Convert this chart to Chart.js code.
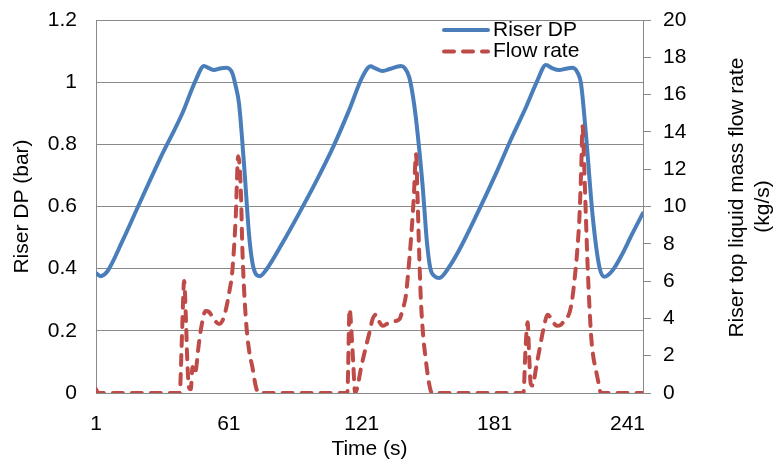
<!DOCTYPE html>
<html><head><meta charset="utf-8">
<style>html,body{margin:0;padding:0;background:#fff;} #wrap{width:773px;height:464px;}</style>
<script src="https://cdn.jsdelivr.net/npm/chart.js@4"></script>
</head><body><div id="wrap"><canvas id="c" width="773" height="464"></canvas></div>
<script>
// ---- data ----
const xTickValues = [1, 61, 121, 181, 241];
const seriesNames = ['Riser DP', 'Flow rate'];
const dpTime = [1, 3, 6, 13, 20, 30, 40, 46, 49.8, 52, 54.3, 57, 60, 62.6, 64, 65.6, 67.9, 70.1, 71.6, 73, 75, 77.7,
  85, 92.7, 100, 108, 115.3, 121.3, 125, 127, 130.4, 134, 138.6, 140.5, 142.4, 144, 145.4, 148.4, 150.5, 152, 154, 156,
  160.5, 165, 172, 181.6, 188, 195.2, 200, 204.2, 207, 210.2, 213, 216.2, 218.5, 220, 222.2, 225.3, 228.3, 230.6, 234.3,
  238.8, 243, 247.9];
const dpValues = [0.386, 0.376, 0.39, 0.49, 0.60, 0.755, 0.90, 1.006, 1.052, 1.045, 1.039, 1.044, 1.046, 1.028, 0.99, 0.93,
  0.73, 0.51, 0.42, 0.385, 0.376, 0.395,
  0.48, 0.578, 0.675, 0.79, 0.91, 1.017, 1.051, 1.045, 1.036, 1.043, 1.052, 1.045, 1.017, 0.96, 0.888, 0.674, 0.48, 0.40,
  0.375, 0.37,
  0.406, 0.46, 0.56, 0.706, 0.81, 0.92, 1.00, 1.055, 1.045, 1.039, 1.043, 1.046, 1.03, 0.996, 0.835, 0.567, 0.406, 0.374,
  0.395, 0.449, 0.51, 0.578];
const flowTime = [1, 2, 38.8, 39.8, 40.8, 41.6, 42.3, 43, 43.8, 44.6, 45.4, 46.2, 47.2, 48.5, 50.5, 52, 54, 56.6, 58.2,
  59.6, 61, 62.6, 64.1, 65.2, 66.4, 67.1, 68.6, 70.1, 71.6, 73.2, 74.5,
  114.5, 115.5, 116.5, 117.2, 118, 119, 120.6, 122.5, 124.4, 126, 127.4, 129, 130.4, 133, 136, 138, 139.4, 140.9, 142,
  143.2, 144.5, 145.5, 146.2, 146.8, 147.7, 148.8, 149.9, 151, 152.2, 153,
  194, 195, 195.9, 196.6, 197.3, 198.3, 199.5, 201.2, 203, 204.9, 207, 209, 210.9, 212.5, 214.7, 216, 217.2, 218.3,
  219.3, 220.1, 220.7, 221.5, 222.2, 223, 224.5, 225.5, 226.8, 228, 229, 248];
const flowValues = [0.2, 0, 0, 3.0, 6.0, 4.0, 1.5, 0.3, 0.2, 1.4, 1.0, 1.3, 2.4, 3.5, 4.4, 4.35, 4.0, 3.7, 3.9,
  4.45, 5.3, 6.6, 9.45, 12.7, 10.9, 7.7, 4.1, 2.3, 1.4, 0.34, 0,
  0, 4.5, 3.0, 1.5, 0, 0.3, 1.3, 2.3, 3.2, 4.0, 4.2, 3.8, 3.6, 3.75, 3.85, 3.95, 4.45, 5.2, 6.5,
  8.2, 10.5, 12.8, 10.5, 8.0, 5.0, 3.0, 1.8, 0.8, 0.1, 0,
  0, 2.5, 3.8, 2.0, 0.5, 0.4, 1.2, 2.3, 3.4, 4.2, 3.9, 3.6, 3.65, 3.9, 4.27, 5.0, 6.2, 7.6,
  9.45, 12.0, 14.3, 12.0, 9.5, 6.8, 3.2, 2.0, 1.2, 0.5, 0, 0];

// ---- style ----
const FONT = 'Liberation Sans, Arial, sans-serif';
const FS = 21;
const BLUE = '#4A7EBB';
const RED = '#BE4B48';
const GRID = '#898989';

const rightTitlePlugin = {
  id: 'rightTitle',
  afterDraw(chart) {
    const s = chart.scales.y2;
    const ctx = chart.ctx;
    const cy = (chart.chartArea.top + chart.chartArea.bottom) / 2;
    ctx.save();
    ctx.fillStyle = '#000';
    ctx.font = FS + 'px ' + FONT;
    ctx.textAlign = 'center';
    ctx.textBaseline = 'middle';
    [['Riser top liquid mass flow rate', s.left + 94, cy - 9], ['(kg/s)', s.left + 120, cy]].forEach(([t, x, y]) => {
      ctx.save();
      ctx.translate(x, y);
      ctx.rotate(-Math.PI / 2);
      ctx.fillText(t, 0, 0);
      ctx.restore();
    });
    ctx.restore();
  }
};

const legendPlugin = {
  id: 'insideLegend',
  afterDatasetsDraw(chart) {
    const ctx = chart.ctx;
    const a = chart.chartArea;
    const x0 = a.right - 201, x1 = a.right - 153, tx = a.right - 150;
    const rows = [a.top + 10, a.top + 31.5];
    chart.data.datasets.forEach((ds, i) => {
      const y = rows[i];
      ctx.save();
      ctx.strokeStyle = ds.borderColor;
      ctx.lineWidth = ds.borderWidth;
      ctx.lineCap = 'round';
      ctx.setLineDash(ds.borderDash || []);
      ctx.beginPath();
      ctx.moveTo(x0 + 2, y);
      ctx.lineTo(x1 - 2, y);
      ctx.stroke();
      ctx.setLineDash([]);
      ctx.fillStyle = '#000';
      ctx.font = FS + 'px ' + FONT;
      ctx.textAlign = 'left';
      ctx.textBaseline = 'middle';
      ctx.fillText(ds.label, tx, y);
      ctx.restore();
    });
  }
};

const fitY = (w) => (s) => { s.width = w; s.paddingTop = 0; s.paddingBottom = 0; };

new Chart(document.getElementById('c'), {
  type: 'line',
  data: {
    datasets: [
      {
        label: seriesNames[0],
        data: dpTime.map((t, i) => ({x: t, y: dpValues[i]})),
        yAxisID: 'y',
        borderColor: BLUE,
        borderWidth: 4,
        pointRadius: 0,
        cubicInterpolationMode: 'monotone',
        borderJoinStyle: 'round',
        borderCapStyle: 'round',
        order: 1
      },
      {
        label: seriesNames[1],
        data: flowTime.map((t, i) => ({x: t, y: flowValues[i]})),
        yAxisID: 'y2',
        borderColor: RED,
        borderWidth: 4,
        borderDash: [10, 9],
        pointRadius: 0,
        cubicInterpolationMode: 'monotone',
        borderJoinStyle: 'round',
        borderCapStyle: 'round',
        order: 0
      }
    ]
  },
  options: {
    responsive: false,
    animation: false,
    devicePixelRatio: 1,
    layout: {padding: {top: 20, left: 0, right: 0, bottom: 0}},
    plugins: {legend: {display: false}, tooltip: {enabled: false}},
    scales: {
      x: {
        type: 'linear',
        min: 1,
        max: 248,
        afterBuildTicks: (s) => { s.ticks = xTickValues.map(v => ({value: v})); },
        afterFit: (s) => { s.height = 71; s.paddingLeft = 0; s.paddingRight = 0; },
        grid: {display: false, drawTicks: false},
        border: {display: true, color: GRID, width: 1},
        ticks: {autoSkip: false, maxRotation: 0, color: '#000', padding: 19, font: {family: FONT, size: FS}},
        title: {display: true, text: 'Time (s)', color: '#000', font: {family: FONT, size: FS}, padding: {top: 0, bottom: 2}}
      },
      y: {
        position: 'left',
        min: 0,
        max: 1.2,
        afterFit: fitY(96),
        ticks: {stepSize: 0.2, color: '#000', padding: 19, font: {family: FONT, size: FS},
          callback: (v) => String(Number(v.toFixed(1)))},
        grid: {color: GRID, lineWidth: 1, drawTicks: false},
        border: {display: true, color: GRID, width: 1},
        title: {display: true, text: 'Riser DP (bar)', color: '#000', font: {family: FONT, size: FS}, padding: {top: 10, bottom: 0}}
      },
      y2: {
        position: 'right',
        min: 0,
        max: 20,
        afterFit: fitY(130),
        ticks: {stepSize: 2, color: '#000', padding: 12, font: {family: FONT, size: FS}},
        grid: {drawOnChartArea: false, drawTicks: true, tickLength: 8, color: GRID, lineWidth: 1},
        border: {display: true, color: GRID, width: 1}
      }
    }
  },
  plugins: [legendPlugin, rightTitlePlugin]
});
</script>
</body></html>
